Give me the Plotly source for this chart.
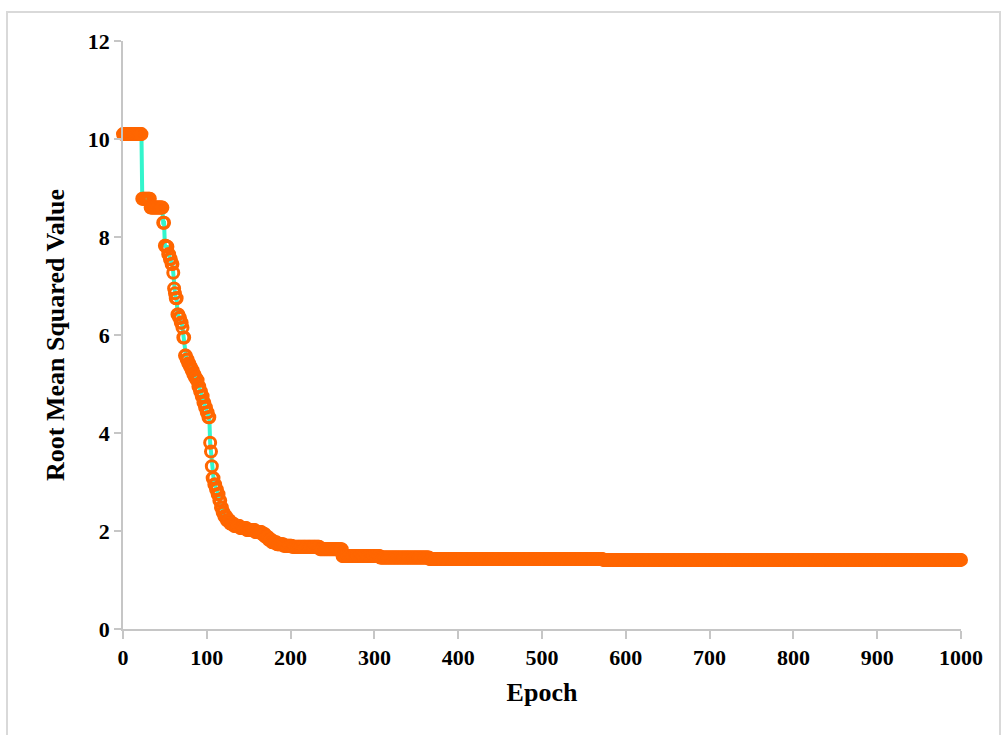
import plotly.graph_objects as go

# Epochs at which the root mean squared value changes, and the new value
# reached at that epoch (the value is held until the next change).
change_epochs = [0, 23, 33, 48, 50, 52, 54, 56, 58, 60, 61, 62, 63, 65, 67, 69,
                 71, 72, 74, 76, 78, 80, 82, 84, 86, 88, 90, 92, 94, 96, 98,
                 100, 102, 104, 105, 106, 107, 109, 111, 113, 115, 117, 119,
                 121, 124, 128, 133, 140, 148, 158, 166, 170, 174, 178, 184,
                 192, 202, 235, 262, 307, 366, 573]
change_values = [10.10, 8.78, 8.60, 8.29, 7.82, 7.80, 7.65, 7.55, 7.45, 7.27,
                 6.95, 6.85, 6.75, 6.42, 6.35, 6.25, 6.15, 5.95, 5.58, 5.50,
                 5.42, 5.35, 5.28, 5.20, 5.13, 5.08, 4.95, 4.85, 4.75, 4.62,
                 4.52, 4.42, 4.32, 3.80, 3.62, 3.32, 3.08, 2.95, 2.85, 2.75,
                 2.62, 2.48, 2.38, 2.30, 2.22, 2.15, 2.10, 2.06, 2.02, 1.98,
                 1.94, 1.88, 1.82, 1.77, 1.73, 1.70, 1.68, 1.63, 1.49, 1.46,
                 1.43, 1.41]
last_epoch = 1000

x_ticks = [0, 100, 200, 300, 400, 500, 600, 700, 800, 900, 1000]
y_ticks = [0, 2, 4, 6, 8, 10, 12]

# Per-epoch series: each epoch carries the most recent recorded value.
epochs = list(range(0, last_epoch + 1))
rmse = []
k = 0
for e in epochs:
    while k + 1 < len(change_epochs) and change_epochs[k + 1] <= e:
        k += 1
    rmse.append(change_values[k])

W, H = 1002, 735
ML, MR, MT, MB = 123, 41, 41, 106
pw, ph = W - ML - MR, H - MT - MB

fig = go.Figure()
fig.add_trace(go.Scatter(
    x=epochs, y=rmse, mode="lines+markers",
    line=dict(color="#33f5cc", width=4),
    marker=dict(symbol="circle-open", size=11, color="#ff6600",
                line=dict(color="#ff6600", width=3)),
    cliponaxis=False, showlegend=False,
))

axis_font = dict(family="Liberation Serif", size=22, color="#000000")
title_font = dict(family="Liberation Serif", size=26, color="#000000")
grey = "#c6c6c6"

fig.update_xaxes(
    range=[0, 1000], tickvals=x_ticks, ticktext=[f"<b>{v}</b>" for v in x_ticks],
    showline=True, linecolor=grey, linewidth=1.5, ticks="outside",
    ticklen=8, tickcolor=grey, tickwidth=1.5, showgrid=False, zeroline=False,
    tickfont=axis_font,
    title=dict(text="<b>Epoch</b>", font=title_font, standoff=14),
)
fig.update_yaxes(
    range=[0, 12], tickvals=y_ticks, ticktext=[f"<b>{v}</b>" for v in y_ticks],
    showline=True, linecolor=grey, linewidth=1.5, ticks="outside",
    ticklen=7, tickcolor=grey, tickwidth=1.5, showgrid=False, zeroline=False,
    tickfont=axis_font,
    title=dict(text="<b>Root Mean Squared Value</b>", font=title_font, standoff=16),
)

# light frame around the chart area
fig.add_shape(
    type="rect", xref="paper", yref="paper",
    x0=(7 - ML) / pw, x1=(1000 - ML) / pw,
    y0=(H - MB - 745) / ph, y1=(H - MB - 12) / ph,
    line=dict(color="#d9d9d9", width=2), fillcolor="rgba(0,0,0,0)", layer="below",
)

fig.update_layout(
    width=W, height=H,
    margin=dict(l=ML, r=MR, t=MT, b=MB),
    paper_bgcolor="white", plot_bgcolor="white",
)

fig.write_html("out.html")
